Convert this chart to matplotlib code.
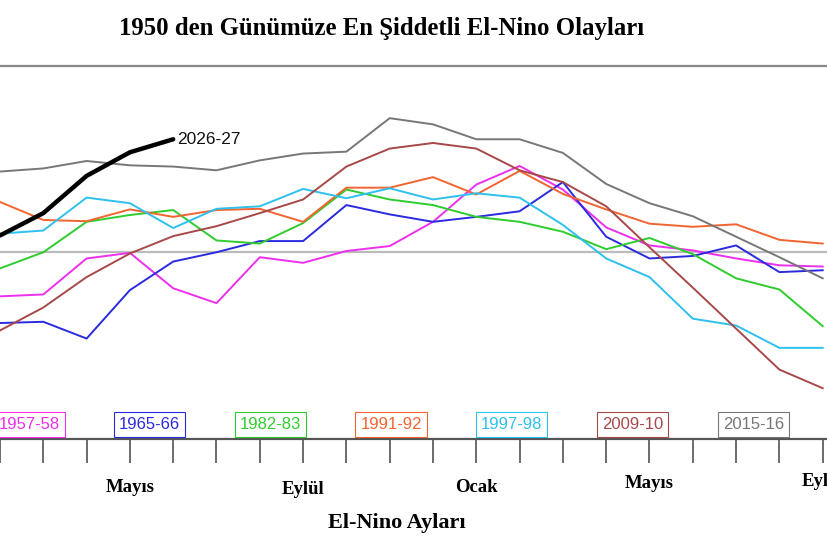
import matplotlib
matplotlib.use("Agg")
import matplotlib.pyplot as plt
import numpy as np

# El-Nino aylik anomali degerleri
yillar = ["1957-58", "1965-66", "1982-83", "1991-92", "1997-98", "2009-10", "2015-16"]
renkler = ["#ee2fee", "#2a2ae0", "#2ecc2e", "#f26430", "#2ec0ee", "#a84848", "#777777"]

v_1957 = [-0.71, -0.68, -0.10, -0.01, -0.58, -0.82, -0.08, -0.17, 0.02, 0.10,
          0.49, 1.09, 1.39, 1.01, 0.40, 0.11, 0.03, -0.10, -0.21, -0.23]
v_1965 = [-1.14, -1.12, -1.39, -0.61, -0.15, 0.00, 0.18, 0.18, 0.76, 0.61,
          0.49, 0.57, 0.66, 1.13, 0.25, -0.10, -0.06, 0.11, -0.32, -0.29]
v_1982 = [-0.26, 0.00, 0.49, 0.60, 0.68, 0.19, 0.14, 0.47, 1.01, 0.85,
          0.76, 0.57, 0.49, 0.33, 0.05, 0.23, -0.03, -0.42, -0.60, -1.19]
v_1991 = [0.81, 0.52, 0.50, 0.69, 0.57, 0.68, 0.70, 0.49, 1.04, 1.04,
          1.21, 0.93, 1.31, 0.94, 0.69, 0.46, 0.41, 0.45, 0.20, 0.14]
v_1997 = [0.30, 0.35, 0.88, 0.79, 0.39, 0.70, 0.74, 1.02, 0.87, 1.03,
          0.85, 0.95, 0.88, 0.44, -0.10, -0.40, -1.07, -1.18, -1.54, -1.54]
v_2009 = [-1.26, -0.89, -0.40, -0.02, 0.26, 0.42, 0.63, 0.85, 1.38, 1.67,
          1.76, 1.67, 1.32, 1.13, 0.74, 0.08, -0.57, -1.23, -1.89, -2.19]
v_2015 = [1.30, 1.35, 1.47, 1.40, 1.38, 1.32, 1.48, 1.59, 1.62, 2.16,
          2.06, 1.82, 1.82, 1.60, 1.10, 0.79, 0.58, 0.25, -0.08, -0.42]
v_2026 = [0.27, 0.63, 1.23, 1.61, 1.82]

seriler = [v_1957, v_1965, v_1982, v_1991, v_1997, v_2009, v_2015]

ay_etiket = ["Mayıs", "Eylül", "Ocak", "Mayıs", "Eylül"]
ay_index = [3, 7, 11, 15, 19]
ay_y = [488, 490, 487, 483, 482]  # piksel, hafif kaymali

serif = "Liberation Serif"
sans = "Liberation Sans"

fig = plt.figure(figsize=(8.28, 5.52), dpi=100)
ax = fig.add_axes([0, (552 - 438.5) / 552, 1, (438.5 - 66) / 552])

for vals, renk in zip(seriler, renkler):
    ax.plot(np.arange(len(vals)), vals, color=renk, lw=1.4, zorder=3)

ax.plot(np.arange(len(v_2026)), v_2026, color="black", lw=3.2,
        solid_capstyle="round", solid_joinstyle="round", zorder=4)
ax.annotate("2026-27", (len(v_2026) - 1, v_2026[-1]), xytext=(3, 0),
            textcoords="offset points", va="center", ha="left",
            fontsize=12.5, family=sans, color="#111111")

ax.axhline(0, color="#bbbbbb", lw=1.6, zorder=1)

ax.set_xlim(0, 828 / 43.3)
ax.set_ylim(-3, 3)
ax.set_xticks(np.arange(0, 20))
ax.set_xticklabels([])
ax.set_yticks([])
ax.tick_params(axis="x", direction="out", length=17, width=1.1, color="#444444")

for s in ["left", "right"]:
    ax.spines[s].set_visible(False)
ax.spines["top"].set_color("#888888")
ax.spines["top"].set_linewidth(1.6)
ax.spines["bottom"].set_color("#555555")
ax.spines["bottom"].set_linewidth(1.6)

# legend kutulari
for k, (yil, renk) in enumerate(zip(yillar, renkler)):
    fig.text((29 + k * 120.7) / 828, (552 - 424.5) / 552, yil, color=renk,
             fontsize=12, family=sans, ha="center", va="center",
             bbox=dict(boxstyle="square,pad=0.3", fc="white", ec=renk, lw=0.8, alpha=1))

# ay etiketleri
for etiket, i, yp in zip(ay_etiket, ay_index, ay_y):
    fig.text(i * 43.3 / 828, (552 - yp) / 552, etiket, fontsize=13.5,
             family=serif, fontweight="bold", ha="center", va="center")

fig.text(397 / 828, (552 - 523) / 552, "El-Nino Ayları", fontsize=16,
         family=serif, fontweight="bold", ha="center", va="center")
fig.text(381.5 / 828, (552 - 28) / 552, "1950 den Günümüze En Şiddetli El-Nino Olayları",
         fontsize=17.8, family=serif, fontweight="bold", ha="center", va="center")

fig.savefig("out.png", dpi=100)
